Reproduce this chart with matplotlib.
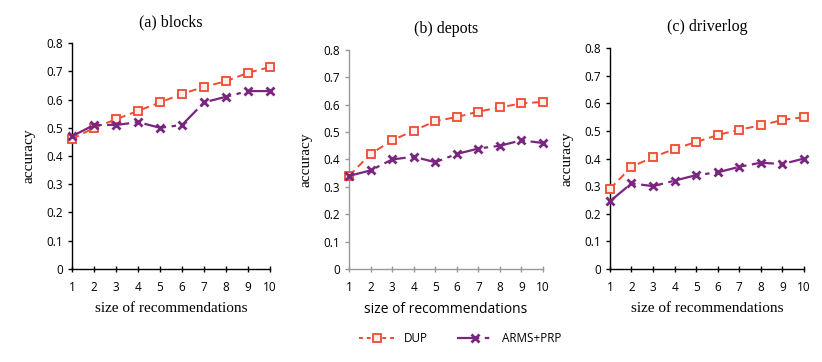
import numpy as np
import matplotlib.pyplot as plt
from matplotlib.lines import Line2D

sizes = list(range(1, 11))

blocks_dup = [0.46, 0.50, 0.53, 0.56, 0.59, 0.62, 0.645, 0.665, 0.695, 0.715]
blocks_arms = [0.47, 0.51, 0.51, 0.52, 0.50, 0.51, 0.59, 0.61, 0.63, 0.63]
depots_dup = [0.34, 0.42, 0.47, 0.505, 0.54, 0.555, 0.575, 0.59, 0.605, 0.61]
depots_arms = [0.34, 0.36, 0.40, 0.41, 0.39, 0.42, 0.44, 0.45, 0.47, 0.46]
driver_dup = [0.29, 0.37, 0.405, 0.435, 0.46, 0.485, 0.505, 0.52, 0.54, 0.55]
driver_arms = [0.245, 0.31, 0.30, 0.32, 0.34, 0.35, 0.37, 0.385, 0.38, 0.40]

titles = ["(a) blocks", "(b) depots", "(c) driverlog"]
yticks = [0, 0.1, 0.2, 0.3, 0.4, 0.5, 0.6, 0.7, 0.8]

red = "#f04a32"
purple = "#7a2580"
serif = "Liberation Serif"
sans = "Open Sans"

fig = plt.figure(figsize=(8.22, 3.62), dpi=100)
boxes = [
    [0.0876, 0.257, 0.241, 0.624],
    [0.4246, 0.257, 0.236, 0.605],
    [0.742, 0.257, 0.236, 0.610],
]
data = [(blocks_dup, blocks_arms), (depots_dup, depots_arms), (driver_dup, driver_arms)]
spine_cols = ["black", "#999999", "black"]
xlab_fonts = [serif, sans, serif]

for i, (box, (dup, arms)) in enumerate(zip(boxes, data)):
    ax = fig.add_axes(box)
    ax.plot(sizes, dup, color=red, ls=(0, (4, 2.5)), lw=1.4, marker="s", ms=5.5,
            mfc="#fff0ec", mec=red, mew=1.3, clip_on=False, zorder=3)
    ax.plot(sizes, arms, color=purple, ls=(0, (10, 2.5, 2, 2.5)), lw=1.6, marker="x",
            ms=6, mew=2, mec=purple, clip_on=False, zorder=4)
    ax.set_xlim(1, 10)
    ax.set_ylim(0, 0.8)
    ax.set_xticks(sizes)
    ax.set_yticks(yticks)
    ax.set_yticklabels(["0"] + ["%.1f" % v for v in yticks[1:]])
    for s in ["top", "right"]:
        ax.spines[s].set_visible(False)
    for s in ["left", "bottom"]:
        ax.spines[s].set_color(spine_cols[i])
        ax.spines[s].set_linewidth(1.0)
    ax.tick_params(axis="both", colors=spine_cols[i], labelcolor="black",
                   labelsize=8.5, length=3, width=1)
    ax.tick_params(axis="x", direction="inout", length=5, pad=6)
    for lab in ax.get_xticklabels() + ax.get_yticklabels():
        lab.set_fontfamily(sans)
    ax.set_ylabel("accuracy", fontfamily=serif, fontsize=11, labelpad=8)
    ax.set_xlabel("size of recommendations", fontfamily=xlab_fonts[i],
                  fontsize=11 if xlab_fonts[i] == serif else 10, labelpad=6)
    ax.set_title(titles[i], fontfamily=serif, fontsize=11.5, pad=12)

handles = [
    Line2D([], [], color=red, ls=(0, (2, 2)), lw=1.4, marker="s", ms=5.5,
           mfc="#fff0ec", mec=red, mew=1.3),
    Line2D([], [], color=purple, ls=(0, (10, 2.5, 2, 2.5)), lw=1.6, marker="x",
           ms=6, mew=2),
]
fig.legend(handles, ["DUP", "ARMS+PRP"], loc="center", bbox_to_anchor=(0.56, 0.065),
           ncol=2, frameon=False, prop={"family": sans, "size": 8.5},
           handlelength=3, columnspacing=2.5, handletextpad=0.8)

fig.savefig("out.png", dpi=100)
